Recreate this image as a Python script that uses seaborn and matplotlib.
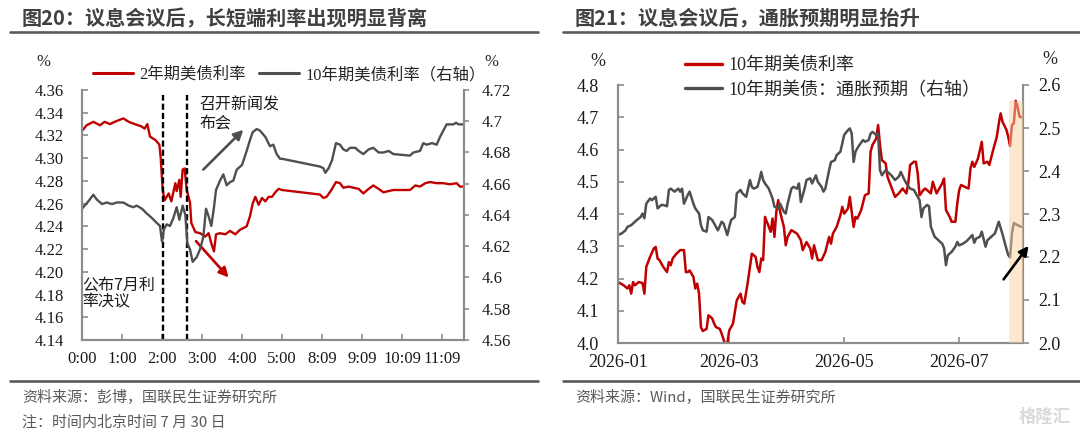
"""
Two-panel recreation: US 2Y vs 10Y intraday around the FOMC decision, and
10Y yield vs 10Y breakeven inflation.
"""

import matplotlib

matplotlib.use("Agg")
import matplotlib.dates as mdates
import matplotlib.pyplot as plt
import pandas as pd
import seaborn as sns
from matplotlib import font_manager as fm
from matplotlib.lines import Line2D

W, H = 1080, 433
RED = "#C00000"
GREY = "#4F4F4F"
SPINE = "#8C8C8C"

_installed = {f.name for f in fm.fontManager.ttflist}
SERIF_MAIN = next((n for n in ["Liberation Serif", "Times New Roman", "DejaVu Serif"]
                   if n in _installed), "DejaVu Serif")
SERIF = [SERIF_MAIN, "Noto Sans CJK SC", "DejaVu Sans"]
SANS = ["Noto Sans CJK SC", "DejaVu Sans"]

# ── Fig 20 data: minute bars, 60 bars per tick label ────────
TICK_LABELS_20 = ["0:00", "1:00", "2:00", "3:00", "4:00",
                  "5:00", "8:09", "9:09", "10:09", "11:09"]
EVENT_BARS = [121, 157]

US2Y_BAR = [0, 7, 17, 27, 34, 42, 49, 62, 70, 79,
            89, 94, 98, 102, 110, 116, 118, 121, 124, 130,
            134, 140, 142, 146, 148, 151, 154, 157, 162, 164,
            170, 177, 185, 190, 194, 198, 201, 207, 215, 222,
            230, 237, 247, 252, 256, 260, 265, 270, 275, 280,
            285, 290, 295, 300, 357, 362, 367, 374, 381, 387,
            392, 400, 407, 415, 422, 430, 437, 445, 452, 467,
            492, 500, 507, 515, 522, 532, 542, 552, 562, 567,
            572]
US2Y = [4.324, 4.329, 4.332, 4.329, 4.332, 4.330, 4.332, 4.335, 4.332, 4.330,
        4.328, 4.326, 4.330, 4.319, 4.316, 4.312, 4.301, 4.272, 4.263, 4.269,
        4.262, 4.278, 4.271, 4.281, 4.266, 4.290, 4.291, 4.272, 4.261, 4.243,
        4.235, 4.234, 4.231, 4.234, 4.225, 4.218, 4.233, 4.234, 4.233, 4.236,
        4.233, 4.237, 4.240, 4.249, 4.260, 4.266, 4.259, 4.265, 4.262, 4.266,
        4.266, 4.270, 4.273, 4.272, 4.268, 4.265, 4.266, 4.272, 4.279, 4.278,
        4.274, 4.275, 4.274, 4.273, 4.269, 4.273, 4.276, 4.273, 4.270, 4.272,
        4.272, 4.276, 4.275, 4.278, 4.279, 4.278, 4.278, 4.277, 4.278, 4.275,
        4.275]

US10Y_BAR = [0, 10, 17, 22, 30, 37, 45, 52, 62, 70,
             77, 82, 90, 97, 105, 112, 117, 120, 123, 127,
             132, 137, 142, 146, 151, 155, 158, 162, 166, 172,
             177, 182, 186, 190, 194, 198, 201, 207, 212, 217,
             222, 227, 232, 240, 247, 252, 256, 262, 267, 275,
             282, 287, 292, 297, 300, 357, 362, 365, 370, 375,
             381, 387, 392, 397, 402, 410, 415, 422, 430, 437,
             445, 452, 460, 467, 492, 497, 507, 512, 517, 525,
             532, 537, 547, 557, 561, 565, 572]
US10Y = [4.644, 4.649, 4.653, 4.650, 4.647, 4.648, 4.647, 4.648, 4.648, 4.646,
         4.645, 4.646, 4.644, 4.641, 4.638, 4.635, 4.633, 4.623, 4.631, 4.634,
         4.633, 4.638, 4.645, 4.637, 4.646, 4.640, 4.622, 4.618, 4.610, 4.613,
         4.618, 4.626, 4.644, 4.639, 4.633, 4.645, 4.656, 4.662, 4.666, 4.659,
         4.661, 4.662, 4.669, 4.672, 4.681, 4.688, 4.693, 4.695, 4.694, 4.690,
         4.684, 4.685, 4.679, 4.676, 4.676, 4.671, 4.670, 4.667, 4.670, 4.675,
         4.686, 4.685, 4.682, 4.681, 4.683, 4.683, 4.681, 4.679, 4.682, 4.683,
         4.680, 4.680, 4.681, 4.679, 4.678, 4.680, 4.681, 4.686, 4.685, 4.686,
         4.685, 4.690, 4.698, 4.698, 4.699, 4.698, 4.698]

# ── Fig 21 data: days since 2026-01-01 ──────────────────────
START_21 = pd.Timestamp("2026-01-01")
END_21 = pd.Timestamp("2026-08-03 17:00")
SHADE_FROM = pd.Timestamp("2026-07-27 06:00")

UST10_DAY = [0, 3, 5, 6, 7, 8, 9, 11, 13, 14,
             15, 17, 19, 20, 21, 22, 24, 26, 27, 28,
             29, 31, 33, 35, 36, 37, 38, 40, 41, 42,
             43, 44, 45, 47, 48, 50, 51, 52, 54, 55,
             57, 58, 59, 61, 63, 65, 66, 67, 69, 71,
             73, 74, 75, 76, 77, 78, 80, 81, 82, 83,
             84, 85, 86, 88, 89, 90, 92, 95, 97, 98,
             100, 102, 103, 104, 106, 108, 110, 112, 113, 114,
             116, 118, 119, 120, 122, 123, 124, 125, 126, 127,
             129, 131, 133, 134, 135, 137, 138, 139, 140, 142,
             143, 145, 147, 149, 151, 153, 154, 155, 157, 158,
             159, 160, 162, 163, 165, 166, 167, 169, 170, 172,
             173, 174, 176, 177, 179, 180, 181, 182, 184, 186,
             187, 188, 189, 191, 193, 194, 196, 197, 199, 201,
             202, 203, 204, 206, 207, 208, 209, 210, 211, 212,
             213, 214]
UST10 = [4.189, 4.179, 4.169, 4.179, 4.153, 4.189, 4.179, 4.189, 4.186, 4.153,
         4.236, 4.267, 4.293, 4.298, 4.262, 4.257, 4.236, 4.220, 4.251, 4.241,
         4.262, 4.277, 4.288, 4.288, 4.220, 4.220, 4.225, 4.205, 4.169, 4.184,
         4.153, 4.049, 4.037, 4.044, 4.086, 4.076, 4.060, 4.049, 4.044, 4.029,
         3.993, 3.998, 4.039, 4.060, 4.132, 4.153, 4.127, 4.122, 4.194, 4.277,
         4.267, 4.236, 4.220, 4.262, 4.257, 4.391, 4.360, 4.345, 4.386, 4.329,
         4.407, 4.443, 4.407, 4.360, 4.303, 4.329, 4.350, 4.339, 4.319, 4.288,
         4.313, 4.293, 4.262, 4.303, 4.257, 4.257, 4.282, 4.329, 4.308, 4.339,
         4.360, 4.396, 4.422, 4.401, 4.417, 4.453, 4.407, 4.360, 4.391, 4.386,
         4.412, 4.458, 4.464, 4.593, 4.614, 4.634, 4.676, 4.614, 4.567, 4.557,
         4.515, 4.484, 4.453, 4.464, 4.479, 4.464, 4.495, 4.552, 4.562, 4.562,
         4.526, 4.458, 4.474, 4.479, 4.469, 4.464, 4.500, 4.464, 4.474, 4.495,
         4.510, 4.412, 4.391, 4.376, 4.376, 4.433, 4.474, 4.490, 4.484, 4.479,
         4.541, 4.562, 4.546, 4.572, 4.624, 4.557, 4.562, 4.552, 4.598, 4.640,
         4.680, 4.712, 4.686, 4.662, 4.640, 4.611, 4.676, 4.681, 4.751, 4.733,
         4.702, 4.700]

BEI_DAY = [0, 2, 4, 5, 7, 8, 10, 12, 13, 14,
           15, 17, 18, 20, 21, 23, 24, 26, 27, 28,
           30, 32, 33, 34, 35, 37, 38, 40, 41, 43,
           44, 45, 47, 48, 50, 51, 53, 55, 56, 58,
           59, 60, 62, 63, 65, 66, 68, 70, 71, 72,
           74, 75, 76, 77, 78, 80, 82, 83, 85, 86,
           88, 89, 90, 92, 93, 95, 96, 97, 99, 100,
           102, 103, 105, 106, 108, 109, 110, 112, 113, 115,
           116, 118, 119, 120, 122, 123, 124, 125, 126, 127,
           128, 130, 131, 133, 134, 135, 137, 138, 139, 140,
           142, 143, 145, 147, 149, 150, 152, 153, 155, 157,
           158, 160, 161, 162, 164, 165, 166, 168, 170, 172,
           173, 174, 175, 177, 179, 180, 181, 183, 185, 188,
           189, 190, 192, 193, 195, 196, 198, 200, 202, 204,
           206, 207, 208, 209, 210, 212, 214]
BEI = [2.251, 2.255, 2.262, 2.270, 2.274, 2.278, 2.286, 2.293, 2.301, 2.290,
       2.324, 2.336, 2.332, 2.340, 2.313, 2.321, 2.321, 2.318, 2.356, 2.359,
       2.352, 2.359, 2.352, 2.359, 2.324, 2.344, 2.352, 2.324, 2.313, 2.301,
       2.274, 2.262, 2.259, 2.293, 2.286, 2.278, 2.262, 2.282, 2.278, 2.251,
       2.270, 2.286, 2.293, 2.348, 2.356, 2.348, 2.340, 2.379, 2.363, 2.359,
       2.363, 2.379, 2.398, 2.379, 2.371, 2.359, 2.336, 2.317, 2.313, 2.324,
       2.305, 2.301, 2.324, 2.359, 2.363, 2.359, 2.371, 2.328, 2.359, 2.379,
       2.383, 2.371, 2.390, 2.375, 2.363, 2.352, 2.359, 2.402, 2.421, 2.425,
       2.437, 2.445, 2.464, 2.484, 2.495, 2.499, 2.487, 2.421, 2.445, 2.453,
       2.460, 2.472, 2.468, 2.472, 2.487, 2.491, 2.484, 2.487, 2.402, 2.390,
       2.402, 2.398, 2.390, 2.379, 2.387, 2.398, 2.379, 2.371, 2.359, 2.356,
       2.348, 2.332, 2.293, 2.313, 2.321, 2.318, 2.270, 2.247, 2.239, 2.231,
       2.220, 2.181, 2.204, 2.212, 2.224, 2.235, 2.227, 2.231, 2.237, 2.251,
       2.233, 2.243, 2.247, 2.259, 2.224, 2.239, 2.247, 2.255, 2.282, 2.253,
       2.220, 2.205, 2.199, 2.255, 2.279, 2.274, 2.270]

sns.set_theme(style="white")
plt.rcParams["font.family"] = SERIF
plt.rcParams["axes.unicode_minus"] = False


def px(x, y):
    """pixel position -> figure fraction"""
    return x / W, 1 - y / H


def frame_axes(ax, side_color=SPINE):
    for name in ["left", "bottom", "right"]:
        ax.spines[name].set_visible(True)
        ax.spines[name].set_color(side_color)
        ax.spines[name].set_linewidth(1.5)
    ax.spines["top"].set_visible(False)
    ax.set_xlabel("")
    ax.set_ylabel("")


def style_ticklabels(ax):
    for lbl in ax.get_xticklabels() + ax.get_yticklabels():
        lbl.set_family(SERIF)


def header(x0, x1, title, source, note=None):
    fig.text(*px(x0 + 12, 19), title, family=SANS, fontsize=14.5,
             fontweight="bold", color="#404040", va="center")
    for yy in (31.7, 381):
        fig.add_artist(Line2D([x0 / W, x1 / W], [1 - yy / H] * 2,
                              color="#5A5A5A", lw=1.9))
    fig.text(*px(x0 + 12, 397.5), source, family=SANS, fontsize=10.8,
             color="#595959", va="center")
    if note:
        fig.text(*px(x0 + 12, 423), note, family=SANS, fontsize=10.8,
                 color="#595959", va="center")


fig = plt.figure(figsize=(W / 100, H / 100), dpi=100)

# ── Fig 20 ───────────────────────────────────────────────────
ax = fig.add_axes([82 / W, 1 - 340 / H, 382 / W, 250 / H])
axr = ax.twinx()
sns.lineplot(x=US2Y_BAR, y=US2Y, ax=ax, color=RED, linewidth=1.7)
sns.lineplot(x=US10Y_BAR, y=US10Y, ax=axr, color=GREY, linewidth=1.7)
ax.set_xlim(0, 573)
ax.set_ylim(4.14, 4.36)
axr.set_ylim(4.56, 4.72)
ax.set_xticks(range(0, 60 * len(TICK_LABELS_20), 60))
ax.set_xticklabels(TICK_LABELS_20)
ax.set_yticks([4.14 + 0.02 * i for i in range(12)])
ax.set_yticklabels([f"{4.14 + 0.02 * i:.2f}" for i in range(12)])
axr.set_yticks([4.56 + 0.02 * i for i in range(9)])
axr.set_yticklabels([f"{4.56 + 0.02 * i:.2f}".rstrip("0") for i in range(9)])
for a in (ax, axr):
    frame_axes(a)
ax.tick_params(axis="y", direction="in", length=4, width=1.2, color=SPINE,
               pad=13, labelsize=12, labelcolor="#1A1A1A", left=True)
ax.tick_params(axis="x", direction="in", length=4, width=1.2, color=SPINE,
               pad=8, labelsize=12, labelcolor="#1A1A1A", bottom=True)
axr.tick_params(axis="y", direction="out", length=3.5, width=1.2, color=SPINE,
                pad=9, labelsize=12, labelcolor="#1A1A1A", right=True)
style_ticklabels(ax)
style_ticklabels(axr)

for bar in EVENT_BARS:
    ax.axvline(bar, ymin=0, ymax=0.98, color="black", lw=1.7,
               ls=(0, (2.6, 1.3)), zorder=4)

ax.annotate("", xy=(242, 4.325), xytext=(182, 4.290),
            arrowprops=dict(arrowstyle="-|>", color=GREY, lw=1.9,
                            mutation_scale=14, shrinkA=0, shrinkB=0))
ax.annotate("", xy=(220, 4.195), xytext=(171, 4.227),
            arrowprops=dict(arrowstyle="-|>", color="#C00000", lw=1.9,
                            mutation_scale=14, shrinkA=0, shrinkB=0))
ax.text(176, 4.339, "召开新闻发\n布会", family=SANS, fontsize=11.5,
        color="#1A1A1A", va="center", ha="left", linespacing=1.05)
ax.text(1, 4.181, "公布7月利\n率决议", family=SANS, fontsize=11.5,
        color="#1A1A1A", va="center", ha="left", linespacing=1.05)

fig.text(*px(43, 62), "%", family=SERIF, fontsize=12, ha="center", va="center")
fig.text(*px(491, 62), "%", family=SERIF, fontsize=12, ha="center", va="center")
fig.legend(
    [Line2D([], [], color=RED, lw=2.2), Line2D([], [], color=GREY, lw=2.2)],
    ["2年期美债利率", "10年期美债利率（右轴）"],
    loc="center left", bbox_to_anchor=px(93, 75), ncol=2, frameon=False,
    prop={"family": SERIF, "size": 11.8},
    handlelength=2.45, handletextpad=0.35, columnspacing=0.85,
    borderpad=0, borderaxespad=0,
)
header(10, 538, "图20：议息会议后，长短端利率出现明显背离",
       "资料来源：彭博，国联民生证券研究所", "注：时间内北京时间 7 月 30 日")

# ── Fig 21 ───────────────────────────────────────────────────
ust10_dates = START_21 + pd.to_timedelta(UST10_DAY, unit="D")
bei_dates = START_21 + pd.to_timedelta(BEI_DAY, unit="D")

bx = fig.add_axes([618 / W, 1 - 343 / H, 404.7 / W, 258 / H])
bxr = bx.twinx()
sns.lineplot(x=ust10_dates, y=UST10, ax=bx, color=RED, linewidth=1.8)
sns.lineplot(x=bei_dates, y=BEI, ax=bxr, color=GREY, linewidth=1.8)
bx.set_xlim(START_21, END_21)
bx.set_ylim(4.0, 4.8)
bxr.set_ylim(2.0, 2.6)
bx.xaxis.set_major_locator(mdates.MonthLocator(bymonth=[1, 3, 5, 7]))
bx.xaxis.set_major_formatter(mdates.DateFormatter("%Y-%m"))
bx.set_yticks([4.0 + 0.1 * i for i in range(9)])
bx.set_yticklabels([f"{4.0 + 0.1 * i:.1f}" for i in range(9)])
bxr.set_yticks([2.0 + 0.1 * i for i in range(7)])
bxr.set_yticklabels([f"{2.0 + 0.1 * i:.1f}" for i in range(7)])
for a in (bx, bxr):
    frame_axes(a)
bx.tick_params(axis="y", direction="in", length=4.5, width=1.2, color=SPINE,
               pad=13.5, labelsize=13, labelcolor="#1A1A1A", left=True)
bx.tick_params(axis="x", direction="in", length=4.5, width=1.2, color=SPINE,
               pad=8, labelsize=13, labelcolor="#1A1A1A", bottom=True)
bxr.tick_params(axis="y", direction="out", length=4.5, width=1.2, color=SPINE,
                pad=6.5, labelsize=13, labelcolor="#1A1A1A", right=True)
style_ticklabels(bxr)

bxr.axvspan(SHADE_FROM, END_21, ymin=0, ymax=0.938, color="#FAD3A0",
            alpha=0.5, lw=0, zorder=5)
bxr.annotate("", xy=(pd.Timestamp("2026-08-06 20:00"), 2.226),
             xytext=(pd.Timestamp("2026-07-24 14:00"), 2.148),
             annotation_clip=False,
             arrowprops=dict(arrowstyle="-|>", color="black", lw=1.9,
                             mutation_scale=14, shrinkA=0, shrinkB=0),
             zorder=6)

fig.text(*px(598, 62), "%", family=SERIF, fontsize=13, ha="center", va="center")
fig.text(*px(1050, 60), "%", family=SERIF, fontsize=13, ha="center", va="center")
fig.legend(
    [Line2D([], [], color=RED, lw=2.4), Line2D([], [], color=GREY, lw=2.4)],
    ["10年期美债利率", "10年期美债：通胀预期（右轴）"],
    loc="center left", bbox_to_anchor=px(685, 78), ncol=1, frameon=False,
    prop={"family": SERIF, "size": 13},
    handlelength=2.05, handletextpad=0.35, labelspacing=0.4,
    borderpad=0, borderaxespad=0,
)
header(563, 1080, "图21：议息会议后，通胀预期明显抬升",
       "资料来源：Wind，国联民生证券研究所")
fig.text(*px(1045, 417), "格隆汇", family=SANS, fontsize=12.5,
         fontweight="bold", color="#D9D9D9", ha="center", va="center")

if SERIF_MAIN != "Liberation Serif":
    fig.text(0.5, 0.5, "serif fallback: " + SERIF_MAIN, color="blue")

fig.savefig("out.png", dpi=100)
